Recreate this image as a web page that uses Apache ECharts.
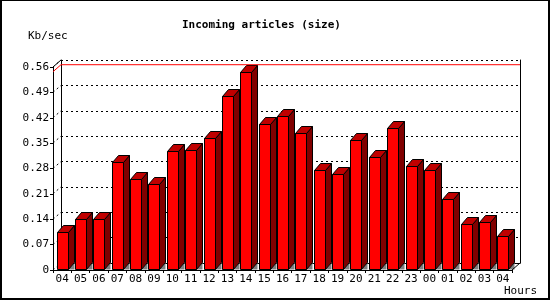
<!DOCTYPE html>
<html>
<head>
<meta charset="utf-8">
<script src="https://cdn.jsdelivr.net/npm/echarts@6/dist/echarts.min.js"></script>
<style>html,body{margin:0;padding:0;background:#fff;}#c{width:550px;height:300px;}</style>
</head>
<body>
<div id="c"></div>
<script>
const hours = ['04','05','06','07','08','09','10','11','12','13','14','15','16','17','18','19','20','21','22','23','00','01','02','03','04'];
const kbPerSec = [0.105,0.142,0.142,0.299,0.252,0.236,0.328,0.331,0.363,0.481,0.547,0.404,0.426,0.377,0.275,0.266,0.358,0.311,0.393,0.286,0.277,0.197,0.128,0.133,0.095];
const yTicks = [0,0.07,0.14,0.21,0.28,0.35,0.42,0.49,0.56];
const titleText = 'Incoming articles (size)';
const yName = 'Kb/sec';
const xName = 'Hours';

const FONT = 'DejaVu Sans Mono';
const DX = 6, DY = 7;       // bar depth
const WX = 8, WY = 7;       // wall offset
const maxVal = Math.max.apply(null, kbPerSec);

const chart = echarts.init(document.getElementById('c'), null, {renderer: 'canvas'});
chart.setOption({
  animation: false,
  backgroundColor: '#fff',
  title: {
    text: titleText, left: 177, top: 15,
    textStyle: {fontFamily: FONT, fontWeight: 'bold', fontSize: 11, color: '#000'}
  },
  grid: [
    {left: 53, right: 38, top: 67, bottom: 30},
    {left: 61, right: 30, top: 60, bottom: 37}
  ],
  xAxis: [
    {type: 'category', gridIndex: 0, data: hours, boundaryGap: true,
     axisLine: {lineStyle: {color: '#000', width: 1}},
     axisTick: {show: true, length: 3, lineStyle: {color: '#000'}},
     axisLabel: {fontFamily: FONT, fontSize: 11, color: '#000', margin: 4, interval: 0},
     splitLine: {show: false}},
    {type: 'category', gridIndex: 1, data: hours, position: 'top',
     axisLine: {show: true, lineStyle: {color: '#000', width: 1}},
     axisTick: {show: false}, axisLabel: {show: false}, splitLine: {show: false}}
  ],
  yAxis: [
    {type: 'value', gridIndex: 0, min: 0, max: 0.56, interval: 0.07,
     axisLine: {show: true, lineStyle: {color: '#000', width: 1}},
     axisTick: {show: true, length: 3, lineStyle: {color: '#000'}},
     axisLabel: {fontFamily: FONT, fontSize: 11, color: '#000', margin: 4,
       formatter: v => v === 0 ? '0' : v.toFixed(2)},
     splitLine: {show: false}},
    {type: 'value', gridIndex: 1, min: 0, max: 0.56, interval: 0.07,
     axisLine: {show: true, lineStyle: {color: '#000', width: 1}},
     axisTick: {show: false}, axisLabel: {show: false},
     splitLine: {show: true, lineStyle: {color: '#000', width: 1, type: [2, 3]}}},
    {type: 'value', gridIndex: 1, min: 0, max: 0.56, interval: 0.07, position: 'right',
     axisLine: {show: true, lineStyle: {color: '#000', width: 1}},
     axisTick: {show: false}, axisLabel: {show: false}, splitLine: {show: false}}
  ],
  series: [
    {
      type: 'custom', xAxisIndex: 1, yAxisIndex: 1, z: 1, silent: true,
      data: yTicks.map(t => [0, t]),
      renderItem: function (params, api) {
        const cs = params.coordSys;
        const y = api.coord([0, api.value(1)])[1];
        return {type: 'line', shape: {x1: cs.x - WX, y1: y + WY, x2: cs.x, y2: y},
                style: {stroke: '#000', lineWidth: 1, lineDash: [2, 3]}};
      }
    },
    {
      type: 'custom', xAxisIndex: 1, yAxisIndex: 1, z: 3, silent: true,
      data: [[0, maxVal]],
      renderItem: function (params, api) {
        const cs = params.coordSys;
        const y = api.coord([0, api.value(1)])[1];
        return {type: 'group', children: [
          {type: 'polyline', shape: {points: [[cs.x - WX, y + WY], [cs.x, y], [cs.x + cs.width, y]]},
           style: {stroke: '#ff0000', lineWidth: 1, fill: null}},
          {type: 'line', shape: {x1: cs.x - WX, y1: cs.y + WY, x2: cs.x, y2: cs.y},
           style: {stroke: '#000', lineWidth: 1}},
          {type: 'line', shape: {x1: cs.x + cs.width - WX, y1: cs.y + cs.height + WY, x2: cs.x + cs.width, y2: cs.y + cs.height},
           style: {stroke: '#000', lineWidth: 1}}
        ]};
      }
    },
    {
      type: 'custom', xAxisIndex: 0, yAxisIndex: 0, z: 2, silent: true,
      data: kbPerSec.map((v, i) => [i, v]),
      encode: {x: 0, y: 1},
      renderItem: function (params, api) {
        const i = api.value(0), v = api.value(1);
        const top = api.coord([i, v]);
        const base = api.coord([i, 0]);
        const w = 11;
        const x0 = Math.round(top[0] - w / 2) + 0.5, x1 = x0 + w;
        const yt = Math.round(top[1]) + 0.5, yb = Math.round(base[1]) - 0.5;
        return {type: 'group', children: [
          {type: 'polygon', shape: {points: [[x1, yb], [x1 + DX, yb - DY], [x1 + DX, yb]]},
           style: {fill: '#808080', stroke: null}},
          {type: 'polygon', shape: {points: [[x1, yt], [x1 + DX, yt - DY], [x1 + DX, yb - DY], [x1, yb]]},
           style: {fill: '#800000', stroke: '#000', lineWidth: 1}},
          {type: 'polygon', shape: {points: [[x0, yt], [x0 + DX, yt - DY], [x1 + DX, yt - DY], [x1, yt]]},
           style: {fill: '#c00000', stroke: '#000', lineWidth: 1}},
          {type: 'rect', shape: {x: x0, y: yt, width: w, height: yb - yt},
           style: {fill: '#ff0000', stroke: '#000', lineWidth: 1}}
        ]};
      }
    }
  ],
  graphic: [
    {type: 'text', left: 28, top: 31, style: {text: yName, font: '11px "DejaVu Sans Mono"', fill: '#000'}},
    {type: 'text', left: 504, top: 286, style: {text: xName, font: '11px "DejaVu Sans Mono"', fill: '#000'}},
    {type: 'line', shape: {x1: 0, y1: 0.5, x2: 550, y2: 0.5}, style: {stroke: '#000', lineWidth: 1}},
    {type: 'line', shape: {x1: 1, y1: 0, x2: 1, y2: 300}, style: {stroke: '#000', lineWidth: 2}},
    {type: 'line', shape: {x1: 549, y1: 0, x2: 549, y2: 300}, style: {stroke: '#000', lineWidth: 2}},
    {type: 'line', shape: {x1: 0, y1: 299, x2: 550, y2: 299}, style: {stroke: '#000', lineWidth: 2}}
  ]
});
</script>
</body>
</html>
